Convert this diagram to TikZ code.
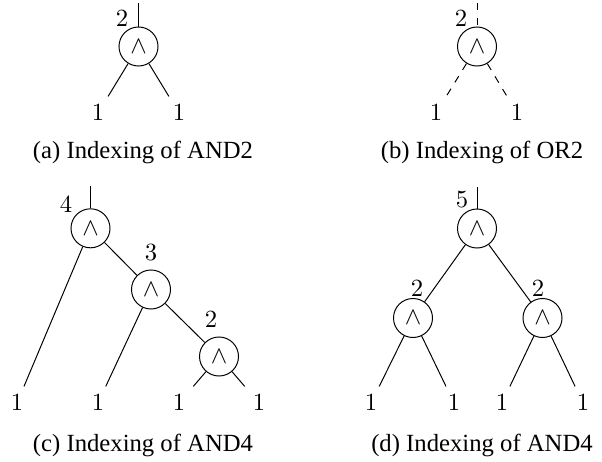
\documentclass[tikz,border=0pt]{standalone}
\usepackage{fontspec}
\setmainfont{Liberation Serif}
\begin{document}
\begin{tikzpicture}[x=0.405pt,y=-0.405pt,
  gate/.style={draw,circle,minimum size=15.8pt,inner sep=0pt},
  leaf/.style={inner sep=3.3pt},
  idx/.style={inner sep=0pt},
  captext/.style={inner sep=0pt,font=\normalsize},
  wire/.style={line width=0.4pt},
  dwire/.style={line width=0.4pt,dashed}]
\useasboundingbox (0,0) rectangle (602,462);
% (a)
\node[gate] (a1) at (138.5,46.5) {$\wedge$};
\coordinate (at) at (138.5,3);
\node[idx] (al) at (122,18.5) {$2$};
\node[leaf] (ax) at (98,113) {$1$};
\node[leaf] (ay) at (179,113) {$1$};
\draw[wire] (at) -- (a1);
\draw[wire] (a1) -- (ax);
\draw[wire] (a1) -- (ay);
\node[captext] (acap) at (143,152) {(a) Indexing of AND2};
% (b)
\node[gate] (b1) at (477,46.5) {$\wedge$};
\coordinate (bt) at (477,3);
\node[idx] (bl) at (461,18.5) {$2$};
\node[leaf] (bx) at (436,113) {$1$};
\node[leaf] (by) at (517,113) {$1$};
\draw[dwire] (bt) -- (b1);
\draw[dwire] (b1) -- (bx);
\draw[dwire] (b1) -- (by);
\node[captext] (bcap) at (482,152) {(b) Indexing of OR2};
% (c)
\node[gate] (c1) at (90.5,228.3) {$\wedge$};
\node[gate] (c2) at (151,289.5) {$\wedge$};
\node[gate] (c3) at (219,356.5) {$\wedge$};
\coordinate (ct) at (90.5,186);
\node[idx] (cl1) at (66,205) {$4$};
\node[idx] (cl2) at (151,253) {$3$};
\node[idx] (cl3) at (211,320) {$2$};
\node[leaf] (cx1) at (17,403) {$1$};
\node[leaf] (cx2) at (98,403) {$1$};
\node[leaf] (cx3) at (179,403) {$1$};
\node[leaf] (cx4) at (259,403) {$1$};
\draw[wire] (ct) -- (c1);
\draw[wire] (c1) -- (c2);
\draw[wire] (c2) -- (c3);
\draw[wire] (c1) -- (cx1);
\draw[wire] (c2) -- (cx2);
\draw[wire] (c3) -- (cx3);
\draw[wire] (c3) -- (cx4);
\node[captext] (ccap) at (143,445) {(c) Indexing of AND4};
% (d)
\node[gate] (d1) at (477,228.5) {$\wedge$};
\node[gate] (d2) at (413,318) {$\wedge$};
\node[gate] (d3) at (542.5,318) {$\wedge$};
\coordinate (dt) at (477,187);
\node[idx] (dl1) at (462,200) {$5$};
\node[idx] (dl2) at (417,289) {$2$};
\node[idx] (dl3) at (538,289) {$2$};
\node[leaf] (dx1) at (371,403) {$1$};
\node[leaf] (dx2) at (454,403) {$1$};
\node[leaf] (dx3) at (502,403) {$1$};
\node[leaf] (dx4) at (583,403) {$1$};
\draw[wire] (dt) -- (d1);
\draw[wire] (d1) -- (d2);
\draw[wire] (d1) -- (d3);
\draw[wire] (d2) -- (dx1);
\draw[wire] (d2) -- (dx2);
\draw[wire] (d3) -- (dx3);
\draw[wire] (d3) -- (dx4);
\node[captext] (dcap) at (482,445) {(d) Indexing of AND4};
\end{tikzpicture}
\end{document}
